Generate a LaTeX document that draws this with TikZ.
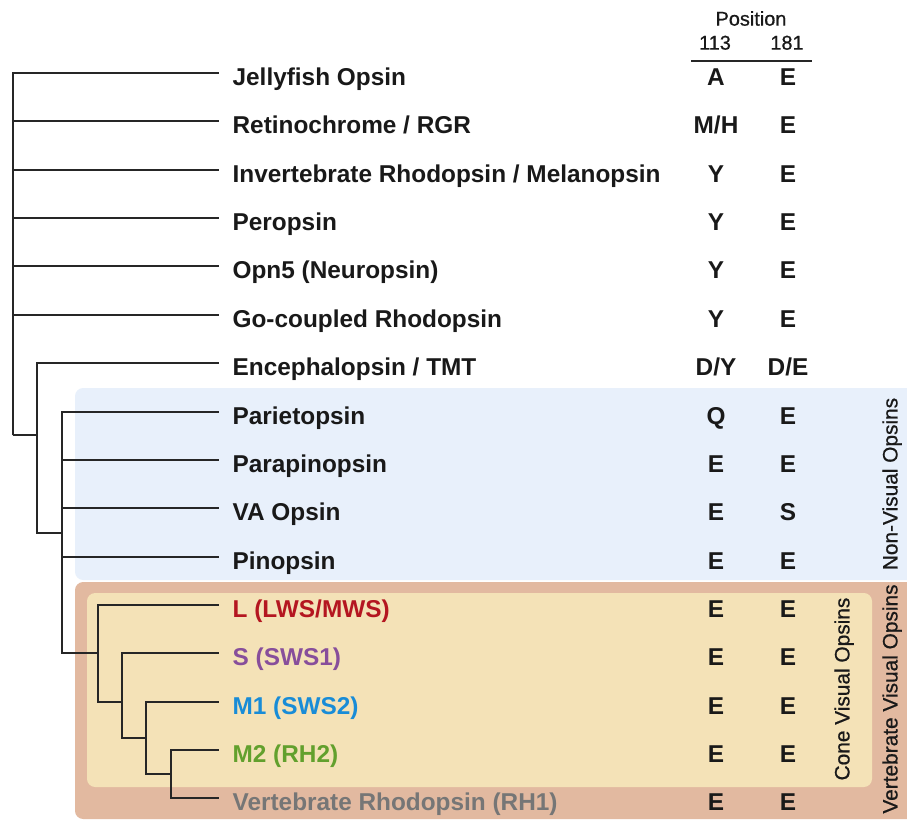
\documentclass[tikz,border=0pt]{standalone}
\usepackage{fontspec}
\setmainfont{Liberation Sans}
\newfontfamily\medfont[FakeBold=0.7]{Liberation Sans}
\definecolor{nonvis}{RGB}{232,240,251}
\definecolor{vertvis}{RGB}{226,185,160}
\definecolor{conevis}{RGB}{244,226,183}
\definecolor{lws}{RGB}{180,22,32}
\definecolor{sws}{RGB}{135,78,155}
\definecolor{swstwo}{RGB}{24,140,215}
\definecolor{rhtwo}{RGB}{98,160,45}
\definecolor{rhone}{RGB}{118,118,118}
\begin{document}
\begin{tikzpicture}[x=0.03cm, y=-0.03cm, line width=1.1pt, draw=black!85,
    every node/.style={font=\bfseries\fontsize{20.8}{24}\selectfont, text=black!90, text height=20.5pt, text depth=0pt, inner sep=0pt},
    leaf/.style={anchor=west, inner xsep=0.39cm},
    head/.style={font=\medfont\fontsize{17}{20}\selectfont, text height=12.2pt},
    group/.style={font=\medfont\fontsize{17.8}{20}\selectfont, text height=12.7pt, rotate=90}]
          \useasboundingbox (0,0) rectangle (907,820);
          \fill [nonvis, rounded corners=7pt] (75,388) rectangle (930,580);
          \fill [vertvis, rounded corners=7pt] (75,582) rectangle (930,819);
          \fill [conevis, rounded corners=7pt] (87,593) rectangle (872,787);
          \node [head] (pos) at (751,18.5) {Position};
          \node [head] (c113) at (715,42.5) {113};
          \node [head] (c181) at (787,42.5) {181};
          \draw (691,61) -- (812,61);
          \coordinate (n1) at (13,435);
          \coordinate (n2) at (37,435);
          \coordinate (n3) at (62,533);
          \coordinate (n4) at (98,653);
          \coordinate (n5) at (122,702);
          \coordinate (n6) at (146,738);
          \coordinate (n7) at (171,774);
          \node [leaf] (1) at (219,73) {Jellyfish Opsin};
          \node [leaf] (2) at (219,121) {Retinochrome / RGR};
          \node [leaf] (3) at (219,170) {Invertebrate Rhodopsin / Melanopsin};
          \node [leaf] (4) at (219,218) {Peropsin};
          \node [leaf] (5) at (219,266) {Opn5 (Neuropsin)};
          \node [leaf] (6) at (219,315) {Go-coupled Rhodopsin};
          \node [leaf] (7) at (219,363) {Encephalopsin / TMT};
          \node [leaf] (8) at (219,412) {Parietopsin};
          \node [leaf] (9) at (219,460) {Parapinopsin};
          \node [leaf] (10) at (219,508) {VA Opsin};
          \node [leaf] (11) at (219,557) {Pinopsin};
          \node [leaf, text=lws] (12) at (219,605) {L (LWS/MWS)};
          \node [leaf, text=sws] (13) at (219,653) {S (SWS1)};
          \node [leaf, text=swstwo] (14) at (219,702) {M1 (SWS2)};
          \node [leaf, text=rhtwo] (15) at (219,750) {M2 (RH2)};
          \node [leaf, text=rhone] (16) at (219,798) {Vertebrate Rhodopsin (RH1)};
          \draw (n1) |- (1.west);
          \draw (n1) |- (2.west);
          \draw (n1) |- (3.west);
          \draw (n1) |- (4.west);
          \draw (n1) |- (5.west);
          \draw (n1) |- (6.west);
          \draw (n1) -- (n2);
          \draw (n2) |- (7.west);
          \draw (n2) |- (n3);
          \draw (n3) |- (8.west);
          \draw (n3) |- (9.west);
          \draw (n3) |- (10.west);
          \draw (n3) |- (11.west);
          \draw (n3) |- (n4);
          \draw (n4) |- (12.west);
          \draw (n4) |- (n5);
          \draw (n5) |- (13.west);
          \draw (n5) |- (n6);
          \draw (n6) |- (14.west);
          \draw (n6) |- (n7);
          \draw (n7) |- (15.west);
          \draw (n7) |- (16.west);
          \node (x1) at (716,73) {A};
          \node (y1) at (788,73) {E};
          \node (x2) at (716,121) {M/H};
          \node (y2) at (788,121) {E};
          \node (x3) at (716,170) {Y};
          \node (y3) at (788,170) {E};
          \node (x4) at (716,218) {Y};
          \node (y4) at (788,218) {E};
          \node (x5) at (716,266) {Y};
          \node (y5) at (788,266) {E};
          \node (x6) at (716,315) {Y};
          \node (y6) at (788,315) {E};
          \node (x7) at (716,363) {D/Y};
          \node (y7) at (788,363) {D/E};
          \node (x8) at (716,412) {Q};
          \node (y8) at (788,412) {E};
          \node (x9) at (716,460) {E};
          \node (y9) at (788,460) {E};
          \node (x10) at (716,508) {E};
          \node (y10) at (788,508) {S};
          \node (x11) at (716,557) {E};
          \node (y11) at (788,557) {E};
          \node (x12) at (716,605) {E};
          \node (y12) at (788,605) {E};
          \node (x13) at (716,653) {E};
          \node (y13) at (788,653) {E};
          \node (x14) at (716,702) {E};
          \node (y14) at (788,702) {E};
          \node (x15) at (716,750) {E};
          \node (y15) at (788,750) {E};
          \node (x16) at (716,798) {E};
          \node (y16) at (788,798) {E};
          \node [group] (nonvisual) at (890,484) {Non-Visual Opsins};
          \node [group] (cone) at (842,689) {Cone Visual Opsins};
          \node [group] (vertebrate) at (890,699) {Vertebrate Visual Opsins};
        \end{tikzpicture}
\end{document}
